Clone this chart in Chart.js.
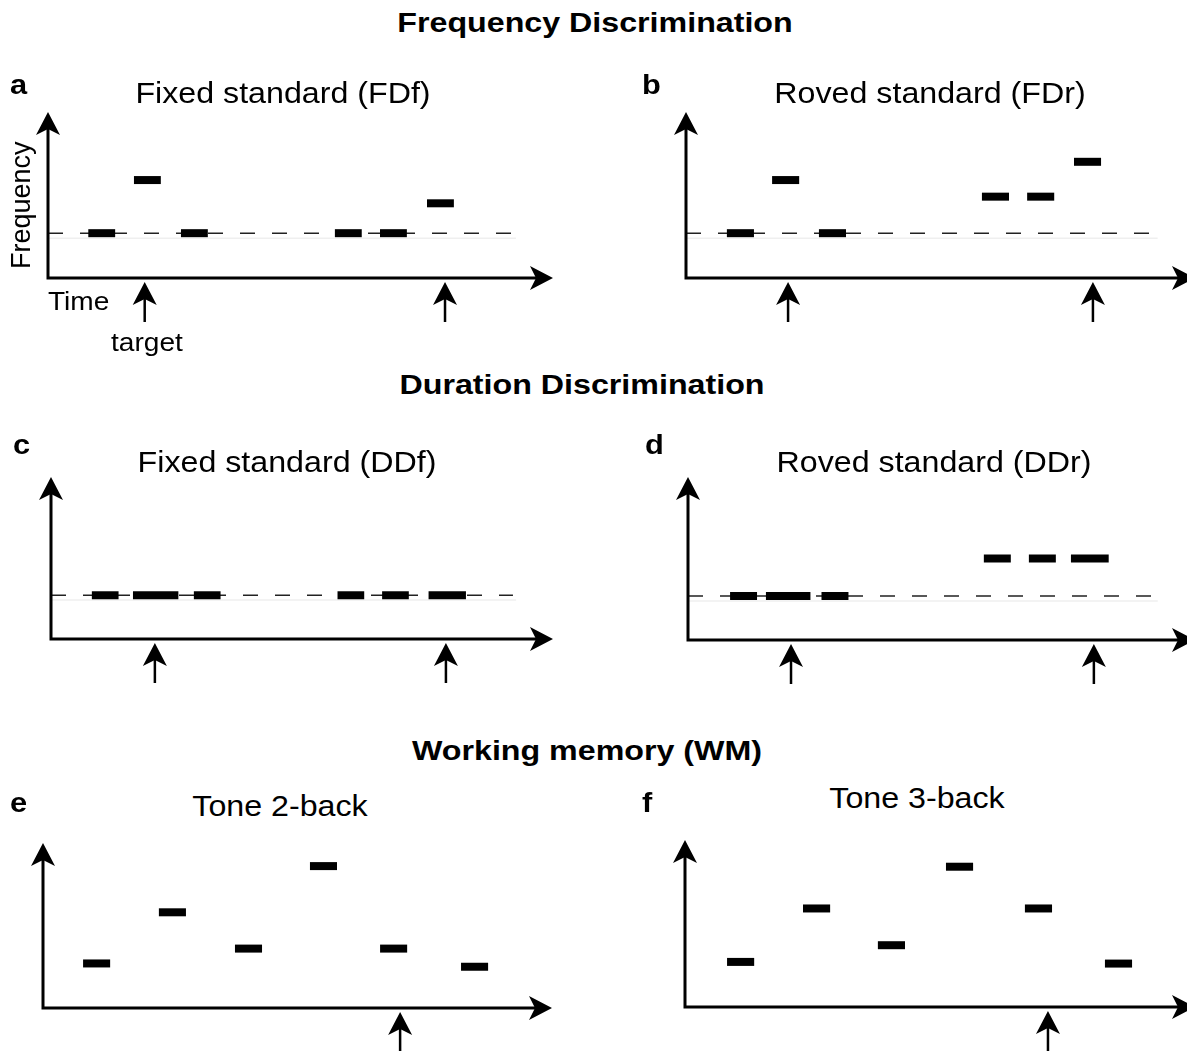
<!DOCTYPE html>
<html>
<head>
<meta charset="utf-8">
<script src="https://cdn.jsdelivr.net/npm/chart.js@4.4.1/dist/chart.umd.min.js"></script>
<style>
  html, body { margin: 0; padding: 0; background: #fff; }
  body { width: 1187px; height: 1051px; overflow: hidden; position: relative; font-family: 'Liberation Sans', Arial, sans-serif; color: #000; }
  .panel { position: absolute; }
  .txt { position: absolute; line-height: 1; white-space: nowrap; z-index: 2; }
  .head { font-weight: bold; font-size: 28px; transform: translateX(-50%) scaleX(1.15); }
  .title { font-size: 29px; transform: translateX(-50%) scaleX(1.11); }
  .letter { font-weight: bold; font-size: 28px; transform: scaleX(1.1); transform-origin: left top; }
  .lab { font-size: 26px; transform: scaleX(1.08); transform-origin: left top; }
  .ylab { font-size: 27px; transform-origin: left top; transform: rotate(-90deg); }
</style>
</head>
<body>

<div class="txt head" style="left:595px; top:9px;">Frequency Discrimination</div>
<div class="txt head" style="left:582px; top:371px;">Duration Discrimination</div>
<div class="txt head" style="left:587px; top:737px;">Working memory (WM)</div>

<div class="txt letter" style="left:10px; top:71px;">a</div>
<div class="txt letter" style="left:642px; top:71px;">b</div>
<div class="txt letter" style="left:13px; top:431px;">c</div>
<div class="txt letter" style="left:645px; top:431px;">d</div>
<div class="txt letter" style="left:10px; top:789px;">e</div>
<div class="txt letter" style="left:642px; top:789px;">f</div>

<div class="txt title" style="left:283px; top:79px;">Fixed standard (FDf)</div>
<div class="txt title" style="left:930px; top:79px;">Roved standard (FDr)</div>
<div class="txt title" style="left:287px; top:448px;">Fixed standard (DDf)</div>
<div class="txt title" style="left:934px; top:448px;">Roved standard (DDr)</div>
<div class="txt title" style="left:280px; top:792px;">Tone 2-back</div>
<div class="txt title" style="left:917px; top:784px;">Tone 3-back</div>

<div class="txt ylab" style="left:8px; top:269px;">Frequency</div>
<div class="txt lab" style="left:48px; top:288px;">Time</div>
<div class="txt lab" style="left:111px; top:329px;">target</div>

<div class="panel" id="pa"><canvas id="ca"></canvas></div>
<div class="panel" id="pb"><canvas id="cb"></canvas></div>
<div class="panel" id="pc"><canvas id="cc"></canvas></div>
<div class="panel" id="pd"><canvas id="cd"></canvas></div>
<div class="panel" id="pe"><canvas id="ce"></canvas></div>
<div class="panel" id="pf"><canvas id="cf"></canvas></div>

<script>
// time axis in ms, frequency axis in relative units (0-100)
const timeMax = 1880;
const freqMax = 100;
const standardEnd = 1730;

// a - Fixed standard (FDf)
const fdfOnsets = [150, 320, 495, 1068, 1236, 1411];
const fdfDurations = [100, 100, 100, 100, 100, 100];
const fdfFreqs = [27, 59, 27, 27, 27, 45];
const fdfStandard = 27;
const fdfTargets = [360, 1478];

// b - Roved standard (FDr)
const fdrOnsets = [151, 318, 491, 1093, 1260, 1433];
const fdrDurations = [100, 100, 100, 100, 100, 100];
const fdrFreqs = [27, 59, 27, 49, 49, 70];
const fdrStandard = 27;
const fdrTargets = [377, 1503];

// c - Fixed standard (DDf)
const ddfOnsets = [153, 307, 535, 1073, 1240, 1414];
const ddfDurations = [100, 170, 100, 100, 100, 140];
const ddfFreqs = [27, 27, 27, 27, 27, 27];
const ddfStandard = 27;
const ddfTargets = [389, 1479];

// d - Roved standard (DDr)
const ddrOnsets = [156, 289, 495, 1097, 1264, 1420];
const ddrDurations = [100, 165, 100, 100, 100, 140];
const ddrFreqs = [27, 27, 27, 50, 50, 50];
const ddrStandard = 27;
const ddrTargets = [382, 1505];

// e - Tone 2-back
const back2Onsets = [148, 428, 709, 986, 1245, 1544];
const back2Durations = [100, 100, 100, 100, 100, 100];
const back2Freqs = [27, 58, 36, 86, 36, 25];
const back2Targets = [1319];

// f - Tone 3-back
const back3Onsets = [155, 435, 711, 962, 1253, 1548];
const back3Durations = [100, 100, 100, 100, 100, 100];
const back3Freqs = [27, 59, 37, 84, 59, 26];
const back3Targets = [1338];

// draws a filled arrow head with its tip at (x, y)
function arrowHead(ctx, x, y, angle) {
  ctx.save();
  ctx.translate(x, y);
  ctx.rotate(angle);
  ctx.beginPath();
  ctx.moveTo(0, 0);
  ctx.lineTo(-23, -12);
  ctx.lineTo(-17, 0);
  ctx.lineTo(-23, 12);
  ctx.closePath();
  ctx.fill();
  ctx.restore();
}

const arrowPlugin = {
  id: 'arrows',
  afterDatasetsDraw(chart, args, opts) {
    const { ctx, chartArea: a, scales } = chart;
    ctx.save();
    ctx.strokeStyle = '#000';
    ctx.fillStyle = '#000';
    ctx.lineWidth = 3;
    ctx.beginPath();
    ctx.moveTo(a.left, a.top + 12);
    ctx.lineTo(a.left, a.bottom);
    ctx.lineTo(a.right - 12, a.bottom);
    ctx.stroke();
    arrowHead(ctx, a.left, a.top, -Math.PI / 2);
    arrowHead(ctx, a.right, a.bottom, 0);

    // target markers under the time axis
    ctx.lineWidth = 2.5;
    (opts.targets || []).forEach(t => {
      const x = scales.x.getPixelForValue(t);
      ctx.beginPath();
      ctx.moveTo(x, a.bottom + 44);
      ctx.lineTo(x, a.bottom + 16);
      ctx.stroke();
      arrowHead(ctx, x, a.bottom + 4, -Math.PI / 2);
    });
    ctx.restore();
  }
};

function toneSets(onsets, durations, freqs) {
  return onsets.map((t, i) => ({
    data: [{ x: t, y: freqs[i] }, { x: t + durations[i], y: freqs[i] }],
    borderColor: '#000',
    borderWidth: 8,
    borderCapStyle: 'butt',
    pointRadius: 0,
    order: 0
  }));
}

function standardSets(std) {
  if (std == null) return [];
  return [
    {
      data: [{ x: 0, y: std }, { x: standardEnd, y: std }],
      borderColor: '#222',
      borderWidth: 1.5,
      borderDash: [15, 17],
      pointRadius: 0,
      order: 1
    },
    {
      data: [{ x: 0, y: std - 3 }, { x: standardEnd + 12, y: std - 3 }],
      borderColor: '#efefef',
      borderWidth: 1.5,
      pointRadius: 0,
      order: 2
    }
  ];
}

// box = canvas placement, area = axis origin / arrow tips (page px)
const panels = [
  { id: 'a', box: { x: 0, y: 95, w: 580, h: 250 }, area: { l: 48, t: 112, r: 553, b: 278 },
    onsets: fdfOnsets, durations: fdfDurations, freqs: fdfFreqs, standard: fdfStandard, targets: fdfTargets },
  { id: 'b', box: { x: 630, y: 95, w: 580, h: 250 }, area: { l: 686, t: 112, r: 1195, b: 278 },
    onsets: fdrOnsets, durations: fdrDurations, freqs: fdrFreqs, standard: fdrStandard, targets: fdrTargets },
  { id: 'c', box: { x: 0, y: 460, w: 580, h: 240 }, area: { l: 51, t: 477, r: 553, b: 639 },
    onsets: ddfOnsets, durations: ddfDurations, freqs: ddfFreqs, standard: ddfStandard, targets: ddfTargets },
  { id: 'd', box: { x: 630, y: 460, w: 580, h: 240 }, area: { l: 688, t: 477, r: 1195, b: 640 },
    onsets: ddrOnsets, durations: ddrDurations, freqs: ddrFreqs, standard: ddrStandard, targets: ddrTargets },
  { id: 'e', box: { x: 0, y: 825, w: 580, h: 240 }, area: { l: 43, t: 843, r: 552, b: 1008 },
    onsets: back2Onsets, durations: back2Durations, freqs: back2Freqs, standard: null, targets: back2Targets },
  { id: 'f', box: { x: 630, y: 822, w: 580, h: 240 }, area: { l: 685, t: 840, r: 1195, b: 1007 },
    onsets: back3Onsets, durations: back3Durations, freqs: back3Freqs, standard: null, targets: back3Targets }
];

panels.forEach(p => {
  const wrap = document.getElementById('p' + p.id);
  wrap.style.left = p.box.x + 'px';
  wrap.style.top = p.box.y + 'px';
  wrap.style.width = p.box.w + 'px';
  wrap.style.height = p.box.h + 'px';

  new Chart(document.getElementById('c' + p.id), {
    type: 'line',
    data: {
      datasets: toneSets(p.onsets, p.durations, p.freqs).concat(standardSets(p.standard))
    },
    options: {
      responsive: true,
      maintainAspectRatio: false,
      animation: false,
      layout: {
        padding: {
          left: p.area.l - p.box.x,
          top: p.area.t - p.box.y,
          right: p.box.x + p.box.w - p.area.r,
          bottom: p.box.y + p.box.h - p.area.b
        }
      },
      scales: {
        x: { type: 'linear', min: 0, max: timeMax, display: false },
        y: { type: 'linear', min: 0, max: freqMax, display: false }
      },
      plugins: {
        legend: { display: false },
        tooltip: { enabled: false },
        arrows: { targets: p.targets }
      }
    },
    plugins: [arrowPlugin]
  });
});
</script>
</body>
</html>
